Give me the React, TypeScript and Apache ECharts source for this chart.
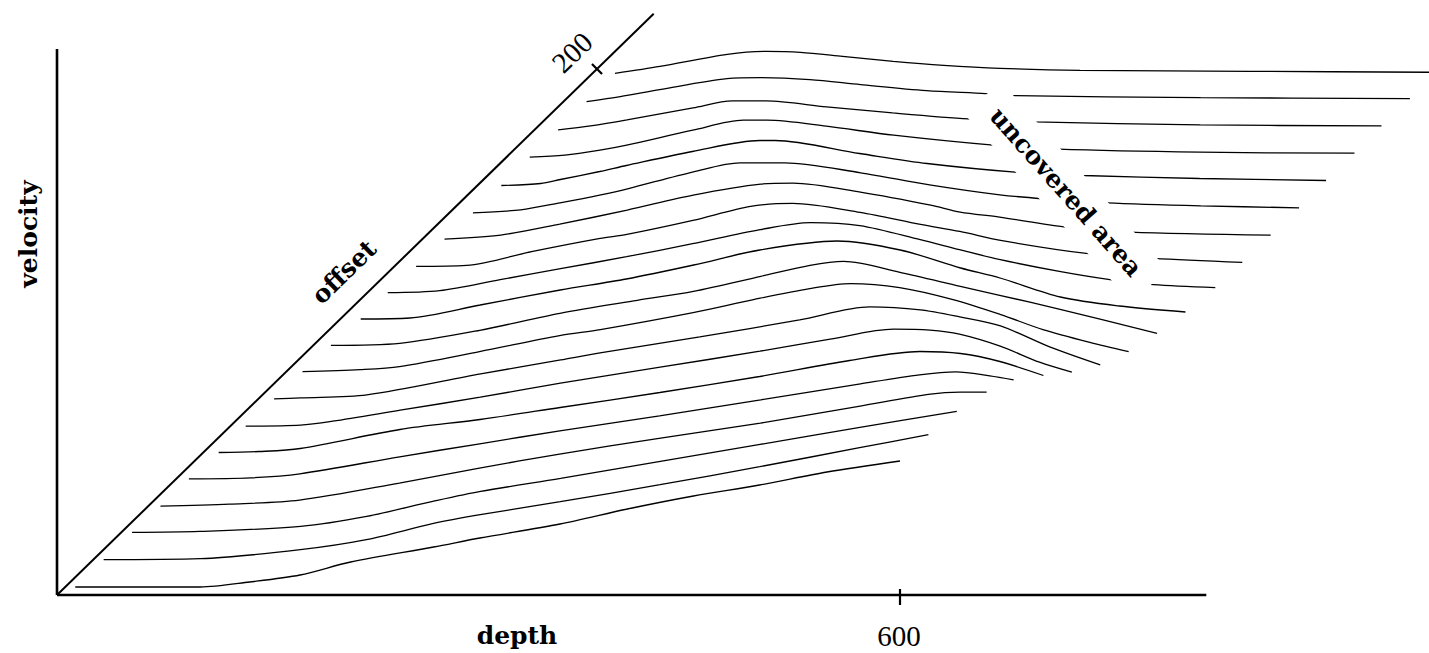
import React, { useEffect, useRef } from "react";
import * as echarts from "echarts";

// Velocity-vs-depth functions, one per source-receiver offset.
// Each pair is [depth, velocity]; the offset shifts the curve along the oblique offset axis.
const OFFSETS = [0, 10, 20, 30, 40, 50, 60, 70, 80, 90, 100, 110, 120, 130, 140, 150, 160, 170, 180, 190];

const velOff0: [number, number][] = [[13, 8], [102, 8], [137, 13], [173, 20], [209, 33], [268, 48], [301, 57], [358, 71], [406, 86], [453, 99], [500, 110], [548, 123], [600, 134]];
const velOff10: [number, number][] = [[14, 9], [83, 10], [154, 19], [201, 29], [248, 45], [282, 54], [339, 67], [410, 84], [481, 102], [552, 121], [601, 134]];
const velOff20: [number, number][] = [[15, 10], [63, 11], [135, 16], [182, 26], [229, 41], [263, 51], [320, 64], [391, 81], [462, 98], [533, 115], [602, 131]];
const velOff30: [number, number][] = [[16, 10], [65, 12], [115, 16], [186, 33], [243, 48], [300, 62], [372, 78], [443, 93], [514, 110], [564, 122], [585, 124], [604, 124]];
const velOff40: [number, number][] = [[17, 11], [61, 12], [96, 16], [167, 33], [224, 46], [281, 59], [352, 74], [424, 90], [495, 106], [537, 115], [563, 118], [587, 114], [604, 110]];
const velOff50: [number, number][] = [[19, 11], [48, 12], [77, 15], [148, 34], [205, 44], [262, 56], [333, 71], [404, 87], [468, 103], [518, 112], [547, 110], [575, 102], [606, 88]];
const velOff60: [number, number][] = [[19, 11], [58, 12], [81, 16], [129, 27], [186, 40], [243, 54], [314, 70], [385, 86], [435, 98], [480, 108], [506, 107], [527, 103], [556, 91], [584, 75], [607, 65]];
const velOff70: [number, number][] = [[20, 12], [39, 13], [86, 16], [167, 37], [224, 51], [252, 58], [323, 74], [394, 91], [444, 104], [480, 101], [508, 94], [537, 85], [572, 64], [608, 46]];
const velOff80: [number, number][] = [[21, 13], [62, 15], [90, 18], [147, 33], [204, 49], [233, 55], [299, 72], [342, 85], [382, 96], [411, 101], [446, 97], [484, 85], [518, 70], [548, 55], [582, 42], [609, 33]];
const velOff90: [number, number][] = [[22, 13], [71, 15], [128, 28], [185, 45], [240, 58], [280, 67], [328, 82], [363, 93], [387, 97], [427, 86], [470, 72], [498, 63], [541, 49], [610, 25]];
const velOff100: [number, number][] = [[24, 13], [59, 14], [109, 27], [166, 42], [213, 53], [261, 67], [308, 82], [363, 91], [408, 82], [451, 64], [479, 54], [522, 35], [564, 26], [611, 20]];
const velOff110: [number, number][] = [[24, 13], [61, 15], [104, 26], [147, 37], [194, 49], [241, 62], [289, 76], [325, 83], [360, 80], [403, 66], [431, 56], [460, 46], [503, 34], [538, 26], [569, 21], [613, 18]];
const velOff120: [number, number][] = [[25, 13], [61, 14], [108, 28], [156, 41], [175, 45], [222, 59], [263, 73], [293, 76], [341, 67], [384, 55], [412, 48], [441, 39], [502, 26], [550, 21], [613, 17]];
const velOff130: [number, number][] = [[26, 14], [66, 18], [108, 29], [156, 43], [203, 58], [251, 69], [274, 70], [322, 61], [372, 48], [393, 41], [421, 36], [468, 26], [514, 21], [614, 18]];
const velOff140: [number, number][] = [[27, 14], [61, 17], [89, 24], [118, 32], [137, 38], [184, 55], [217, 64], [249, 64], [303, 54], [352, 42], [402, 32], [433, 28], [478, 24], [545, 21], [615, 19]];
const velOff150: [number, number][] = [[28, 15], [56, 17], [70, 21], [98, 29], [117, 35], [164, 49], [212, 60], [223, 60], [283, 47], [331, 37], [397, 28], [442, 25], [525, 22], [615, 20]];
const velOff160: [number, number][] = [[29, 17], [54, 19], [79, 24], [98, 29], [145, 44], [181, 54], [198, 54], [240, 48], [288, 39], [359, 29], [405, 25], [506, 22], [616, 21]];
const velOff170: [number, number][] = [[30, 18], [53, 22], [79, 28], [126, 40], [154, 47], [178, 47], [221, 41], [268, 35], [322, 29], [369, 26], [487, 23], [616, 22]];
const velOff180: [number, number][] = [[31, 20], [55, 25], [83, 32], [131, 43], [155, 44], [190, 42], [226, 37], [273, 31], [315, 28], [334, 26], [468, 24], [617, 23]];
const velOff190: [number, number][] = [[32, 22], [64, 29], [112, 41], [140, 44], [164, 43], [194, 39], [230, 34], [266, 30], [306, 27], [363, 25], [484, 24], [619, 23]];

const CURVES = [
  velOff0, velOff10, velOff20, velOff30, velOff40, velOff50, velOff60, velOff70, velOff80, velOff90,
  velOff100, velOff110, velOff120, velOff130, velOff140, velOff150, velOff160, velOff170, velOff180, velOff190,
];

// Axis extents and labelled ticks
const DEPTH_AXIS_END = 818;
const VELOCITY_AXIS_END = 546;
const OFFSET_AXIS_END = 221;
const DEPTH_TICK = 600;
const OFFSET_TICK = 200;

// Plot frame: 1.405 px per depth unit, 1 px per velocity unit
const DEPTH_VIEW_MAX = 976;
const PX_PER_DEPTH = 1.405;

// Oblique projection of one offset unit onto the (depth, velocity) plane
const KX = 1.9217;
const KY = 2.63;

const project = (d: number, v: number, o: number): [number, number] => [d + o * KX, v + o * KY];

const INK = "#000";

function buildOption(): echarts.EChartsOption {
  const curveSeries = CURVES.map((pts, i) => ({
    name: `offset ${OFFSETS[i]}`,
    type: "line" as const,
    data: pts.map(([d, v]) => project(d, v, OFFSETS[i])),
    showSymbol: false,
    symbol: "none",
    smooth: 0.3,
    clip: false,
    silent: true,
    lineStyle: { color: INK, width: 1.3 },
    z: 2,
  }));

  const axisLine = (name: string, data: [number, number][], width: number) => ({
    name,
    type: "line" as const,
    data,
    symbol: "none",
    showSymbol: false,
    clip: false,
    silent: true,
    lineStyle: { color: INK, width },
    z: 3,
  });

  const tickBase = project(0, 0, OFFSET_TICK);

  return {
    animation: false,
    backgroundColor: "#fff",
    grid: { left: 57, top: 49, width: DEPTH_VIEW_MAX * PX_PER_DEPTH, height: VELOCITY_AXIS_END },
    xAxis: { type: "value", min: 0, max: DEPTH_VIEW_MAX, show: false },
    yAxis: { type: "value", min: 0, max: VELOCITY_AXIS_END, show: false },
    series: [
      ...curveSeries,
      axisLine("depth axis", [[0, 0], [DEPTH_AXIS_END, 0]], 2.6),
      axisLine("velocity axis", [[0, 0], [0, VELOCITY_AXIS_END]], 2.6),
      axisLine("offset axis", [[0, 0], project(0, 0, OFFSET_AXIS_END)], 2),
      axisLine("depth tick", [[DEPTH_TICK, 6], [DEPTH_TICK, -10]], 2.2),
      axisLine("offset tick", [[tickBase[0] - 3.6, tickBase[1] + 5], [tickBase[0] + 3.6, tickBase[1] - 5]], 2.2),
    ],
    graphic: [
      {
        type: "text", x: 28, y: 234, rotation: Math.PI / 2, z: 100,
        style: { text: "velocity", fontFamily: "DejaVu Serif", fontWeight: "bold", fontSize: 25, fill: INK, align: "center", verticalAlign: "middle" },
      },
      {
        type: "text", x: 517, y: 635, z: 100,
        style: { text: "depth", fontFamily: "DejaVu Serif", fontWeight: "bold", fontSize: 25, fill: INK, align: "center", verticalAlign: "middle", lineHeight: 26 },
      },
      {
        type: "text", x: 899, y: 636, z: 100,
        style: { text: String(DEPTH_TICK), fontFamily: "Liberation Serif", fontSize: 29, fill: INK, align: "center", verticalAlign: "middle", lineHeight: 24 },
      },
      {
        type: "text", x: 344, y: 272, rotation: 0.771, z: 100,
        style: { text: "offset", fontFamily: "DejaVu Serif", fontWeight: "bold", fontSize: 25, fill: INK, align: "center", verticalAlign: "middle" },
      },
      {
        type: "text", x: 572, y: 52.5, rotation: 0.771, z: 100,
        style: { text: String(OFFSET_TICK), fontFamily: "Liberation Serif", fontSize: 29, fill: INK, align: "center", verticalAlign: "middle" },
      },
      {
        type: "text", x: 1066, y: 192, rotation: -0.8465, z: 100,
        style: {
          text: "uncovered area", fontFamily: "DejaVu Serif", fontWeight: "bold", fontSize: 25, fill: INK,
          align: "center", verticalAlign: "middle", lineHeight: 27,
          backgroundColor: "#fff", padding: [11, 18],
        },
      },
    ],
  } as echarts.EChartsOption;
}

export default function App() {
  const ref = useRef<HTMLDivElement>(null);
  useEffect(() => {
    if (!ref.current) return;
    const chart = echarts.init(ref.current, null, { renderer: "svg" });
    chart.setOption(buildOption());
    return () => chart.dispose();
  }, []);
  return (
    <div
      ref={ref}
      style={{ position: "fixed", left: 0, top: 0, width: 1429, height: 653, background: "#fff" }}
    />
  );
}
